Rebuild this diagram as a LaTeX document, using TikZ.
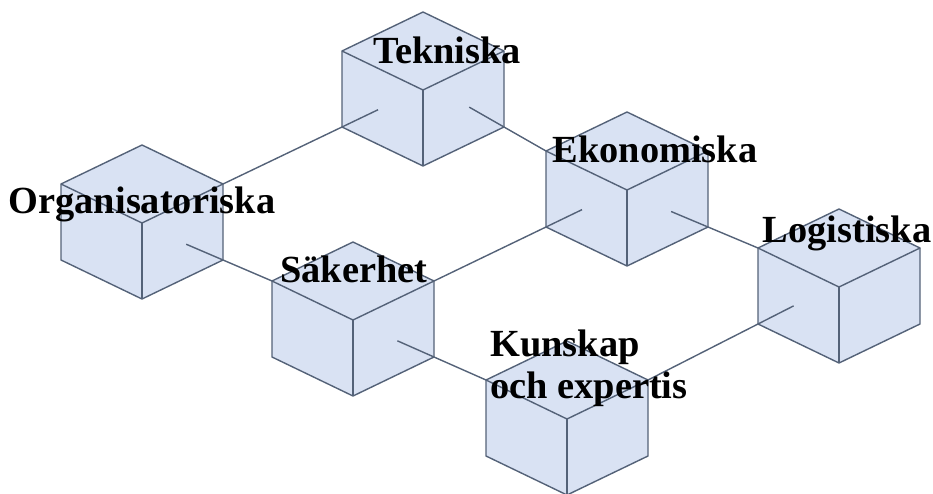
\documentclass[tikz,border=0pt]{standalone}
\usepackage{fontspec}
\setmainfont{Liberation Serif}
\usetikzlibrary{calc}

\definecolor{kubfarg}{RGB}{217,226,243}
\definecolor{kantfarg}{RGB}{84,98,120}

\tikzset{
    kub/.style={fill=kubfarg, draw=kantfarg, line width=1pt, line join=round},
    kant/.style={draw=kantfarg, line width=1pt},
    lank/.style={draw=kantfarg, line width=1pt},
    rubrik/.style={font=\fontsize{27.3}{30}\selectfont\bfseries, inner sep=0pt}
}

\begin{document}
\begin{tikzpicture}[x=0.025cm, y=-0.025cm]

\useasboundingbox (0,0) rectangle (933,493);

\def\halv{81}   % halva kubens bredd
\def\lut{39}    % höjd på takets sluttning
\def\hojd{76}   % vertikal kant
\def\stub{1.0cm} % hur långt linjen går in i kuben

%% Kuber: (namn, x, y för hörnet där tre sidor möts)
\foreach \namn/\cx/\cy in {
    tek/423/90,
    org/142/223,
    eko/627/190,
    sak/353/320,
    kun/567/419,
    log/839/287
} {
    %% Kontur
    \filldraw[kub] (\cx,\cy-2*\lut) -- (\cx+\halv,\cy-\lut) -- (\cx+\halv,\cy-\lut+\hojd)
        -- (\cx,\cy+\hojd) -- (\cx-\halv,\cy-\lut+\hojd) -- (\cx-\halv,\cy-\lut) -- cycle;
    %% Inre kanter
    \draw[kant] (\cx-\halv,\cy-\lut) -- (\cx,\cy) -- (\cx+\halv,\cy-\lut);
    \draw[kant] (\cx,\cy) -- (\cx,\cy+\hojd);

    %% Hörn att koppla linjer till
    \coordinate (\namn-lt) at (\cx-\halv,\cy-\lut);
    \coordinate (\namn-rt) at (\cx+\halv,\cy-\lut);
    \coordinate (\namn-lb) at (\cx-\halv,\cy-\lut+\hojd);
    \coordinate (\namn-rb) at (\cx+\halv,\cy-\lut+\hojd);
}

%% Förbindelser mellan kuberna
\draw[lank] (org-rt) -- ($(tek-lb)!-\stub!(org-rt)$);
\draw[lank] ($(tek-rb)!-\stub!(eko-lt)$) -- (eko-lt);
\draw[lank] ($(org-rb)!-\stub!(sak-lt)$) -- (sak-lt);
\draw[lank] (sak-rt) -- ($(eko-lb)!-\stub!(sak-rt)$);
\draw[lank] ($(eko-rb)!-\stub!(log-lt)$) -- (log-lt);
\draw[lank] ($(sak-rb)!-\stub!(kun-lt)$) -- (kun-lt);
\draw[lank] (kun-rt) -- ($(log-lb)!-\stub!(kun-rt)$);

%% Rubriker
\node[rubrik, anchor=base] (tek-txt) at (447,63) {Tekniska};
\node[rubrik, anchor=base] (org-txt) at (142,213) {Organisatoriska};
\node[rubrik, anchor=base] (eko-txt) at (655,162) {Ekonomiska};
\node[rubrik, anchor=base] (sak-txt) at (354,282) {Säkerhet};
\node[rubrik, anchor=base] (log-txt) at (847,242) {Logistiska};
\node[rubrik, anchor=west, align=left] (kun-txt) at (490,368) {Kunskap\\och expertis};

\end{tikzpicture}
\end{document}
